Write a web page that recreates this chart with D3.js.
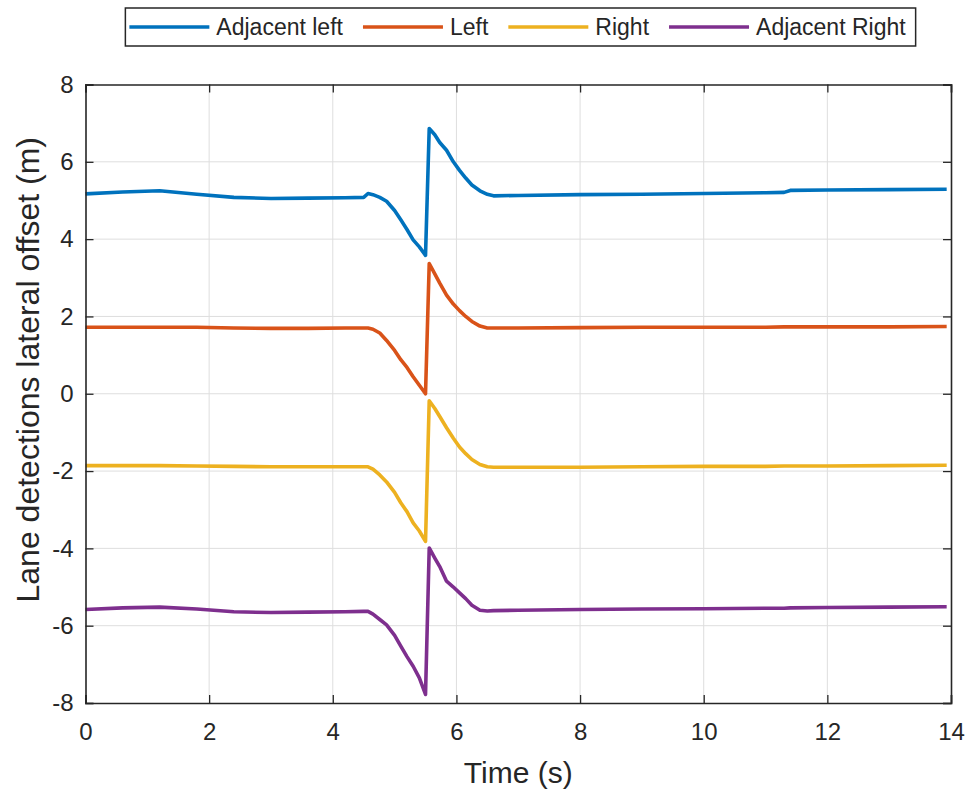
<!DOCTYPE html>
<html>
<head>
<meta charset="utf-8">
<script src="https://cdn.jsdelivr.net/npm/d3@7"></script>
<style>
  html, body { margin: 0; padding: 0; background: #ffffff; }
  svg { display: block; }
  text { font-family: "Liberation Sans", Arial, Helvetica, sans-serif; fill: #262626; }
</style>
</head>
<body>
<svg id="chart" width="972" height="793"></svg>
<script>
// ---- Data ----
const time = [0, 0.6, 1.2, 1.8, 2.4, 3.0, 3.6, 4.2, 4.5, 4.57, 4.65, 4.76, 4.87, 5.0, 5.1, 5.2, 5.3, 5.4, 5.5,
  5.56, 5.65, 5.73, 5.84, 5.95, 6.05, 6.15, 6.25, 6.38, 6.5, 6.6, 7, 8, 9, 10, 11, 11.3, 11.4, 12, 13, 13.93];

const adjacentLeft = [5.17, 5.22, 5.25, 5.16, 5.08, 5.05, 5.06, 5.07, 5.08, 5.18, 5.15, 5.08, 4.98, 4.74, 4.50, 4.25, 3.98, 3.80, 3.58,
  6.86, 6.70, 6.50, 6.30, 6.00, 5.78, 5.58, 5.40, 5.25, 5.16, 5.12, 5.13, 5.15, 5.16, 5.18, 5.20, 5.21, 5.26, 5.27, 5.28, 5.29];

const left = [1.72, 1.72, 1.72, 1.72, 1.70, 1.69, 1.69, 1.70, 1.70, 1.70, 1.67, 1.57, 1.38, 1.12, 0.88, 0.68, 0.44, 0.22, 0.0,
  3.37, 3.10, 2.86, 2.55, 2.32, 2.15, 2.00, 1.87, 1.75, 1.70, 1.70, 1.70, 1.71, 1.72, 1.72, 1.72, 1.73, 1.73, 1.73, 1.73, 1.74];

const right = [-1.86, -1.86, -1.86, -1.87, -1.88, -1.89, -1.89, -1.89, -1.89, -1.89, -1.95, -2.10, -2.28, -2.55, -2.82, -3.05, -3.34, -3.55, -3.82,
  -0.18, -0.38, -0.59, -0.88, -1.15, -1.38, -1.55, -1.70, -1.83, -1.89, -1.90, -1.90, -1.90, -1.89, -1.88, -1.88, -1.87, -1.87, -1.87, -1.86, -1.85];

const adjacentRight = [-5.58, -5.54, -5.52, -5.57, -5.64, -5.66, -5.65, -5.64, -5.63, -5.63, -5.70, -5.84, -5.98, -6.25, -6.53, -6.80, -7.05, -7.35, -7.78,
  -3.99, -4.25, -4.47, -4.85, -5.00, -5.15, -5.30, -5.47, -5.60, -5.62, -5.61, -5.60, -5.58, -5.57, -5.56, -5.55, -5.55, -5.54, -5.53, -5.52, -5.51];

const seriesNames = ["Adjacent left", "Left", "Right", "Adjacent Right"];
const seriesValues = [adjacentLeft, left, right, adjacentRight];
const seriesColors = ["#0072BD", "#D95319", "#EDB120", "#7E2F8E"];

const xTicks = [0, 2, 4, 6, 8, 10, 12, 14];
const yTicks = [-8, -6, -4, -2, 0, 2, 4, 6, 8];
const xLabel = "Time (s)";
const yLabel = "Lane detections lateral offset (m)";

// ---- Layout ----
const W = 972, H = 793;
const margin = { top: 84.5, right: 21, bottom: 90, left: 85.5 };
const iw = W - margin.left - margin.right;
const ih = H - margin.top - margin.bottom;

const svg = d3.select("#chart");
const g = svg.append("g").attr("transform", `translate(${margin.left},${margin.top})`);

const x = d3.scaleLinear().domain([0, 14]).range([0, iw]);
const y = d3.scaleLinear().domain([-8, 8]).range([ih, 0]);

// grid
g.append("g").selectAll("line").data(xTicks.slice(1, -1)).join("line")
  .attr("x1", d => x(d)).attr("x2", d => x(d)).attr("y1", 0).attr("y2", ih)
  .attr("stroke", "#dedede").attr("stroke-width", 1);
g.append("g").selectAll("line").data(yTicks.slice(1, -1)).join("line")
  .attr("y1", d => y(d)).attr("y2", d => y(d)).attr("x1", 0).attr("x2", iw)
  .attr("stroke", "#dedede").attr("stroke-width", 1);

// lines
const lineGen = d3.line().x((d, i) => x(time[i])).y(d => y(d));
seriesValues.forEach((vals, k) => {
  g.append("path").datum(vals)
    .attr("fill", "none").attr("stroke", seriesColors[k])
    .attr("stroke-width", 3.6).attr("stroke-linejoin", "round").attr("stroke-linecap", "butt")
    .attr("d", lineGen);
});

// axes (ticks inside)
const tickLen = 8;
const axisColor = "#262626";
const fontTick = 24;
const fmt = d => String(d);

const xAxisB = g.append("g").attr("transform", `translate(0,${ih})`)
  .call(d3.axisBottom(x).tickValues(xTicks).tickSize(-tickLen).tickPadding(20).tickFormat(fmt));
const xAxisT = g.append("g")
  .call(d3.axisTop(x).tickValues(xTicks).tickSize(-tickLen).tickFormat(""));
const yAxisL = g.append("g")
  .call(d3.axisLeft(y).tickValues(yTicks).tickSize(-tickLen).tickPadding(12).tickFormat(fmt));
const yAxisR = g.append("g").attr("transform", `translate(${iw},0)`)
  .call(d3.axisRight(y).tickValues(yTicks).tickSize(-tickLen).tickFormat(""));

[xAxisB, xAxisT, yAxisL, yAxisR].forEach(a => {
  a.attr("font-family", null).attr("font-size", null);
  a.select(".domain").attr("stroke", axisColor).attr("stroke-width", 1.6);
  a.selectAll(".tick line").attr("stroke", axisColor).attr("stroke-width", 1.3);
  a.selectAll(".tick text").attr("fill", axisColor)
    .style("font-family", '"Liberation Sans", Arial, sans-serif').style("font-size", fontTick + "px");
});
xAxisB.selectAll(".tick text").attr("dy", "0.71em");

// axis labels
svg.append("text").attr("x", margin.left + iw / 2).attr("y", 783)
  .attr("text-anchor", "middle").style("font-size", "30px").text(xLabel);
svg.append("text")
  .attr("transform", `translate(39,${margin.top + ih / 2 - 24}) rotate(-90)`)
  .attr("text-anchor", "middle").style("font-size", "32px").text(yLabel);

// legend
const legFont = 23;
const lineLen = 80, gapLT = 7, gapEntry = 20, padL = 4, padR = 10;
const leg = svg.append("g");
let cx = padL;
seriesNames.forEach((name, k) => {
  const eg = leg.append("g");
  eg.append("line").attr("x1", cx).attr("x2", cx + lineLen).attr("y1", 0).attr("y2", 0)
    .attr("stroke", seriesColors[k]).attr("stroke-width", 3.6);
  const t = eg.append("text").attr("x", cx + lineLen + gapLT).attr("y", 0).attr("dy", "0.35em")
    .style("font-size", legFont + "px").text(name);
  const tw = t.node().getComputedTextLength();
  cx += lineLen + gapLT + tw + gapEntry;
});
const legW = cx - gapEntry + padR;
const legX = 520.5 - legW / 2;
leg.insert("rect", ":first-child").attr("x", 0).attr("y", -19).attr("width", legW).attr("height", 38)
  .attr("fill", "#ffffff").attr("stroke", axisColor).attr("stroke-width", 1.5);
leg.attr("transform", `translate(${legX},27)`);
</script>
</body>
</html>
